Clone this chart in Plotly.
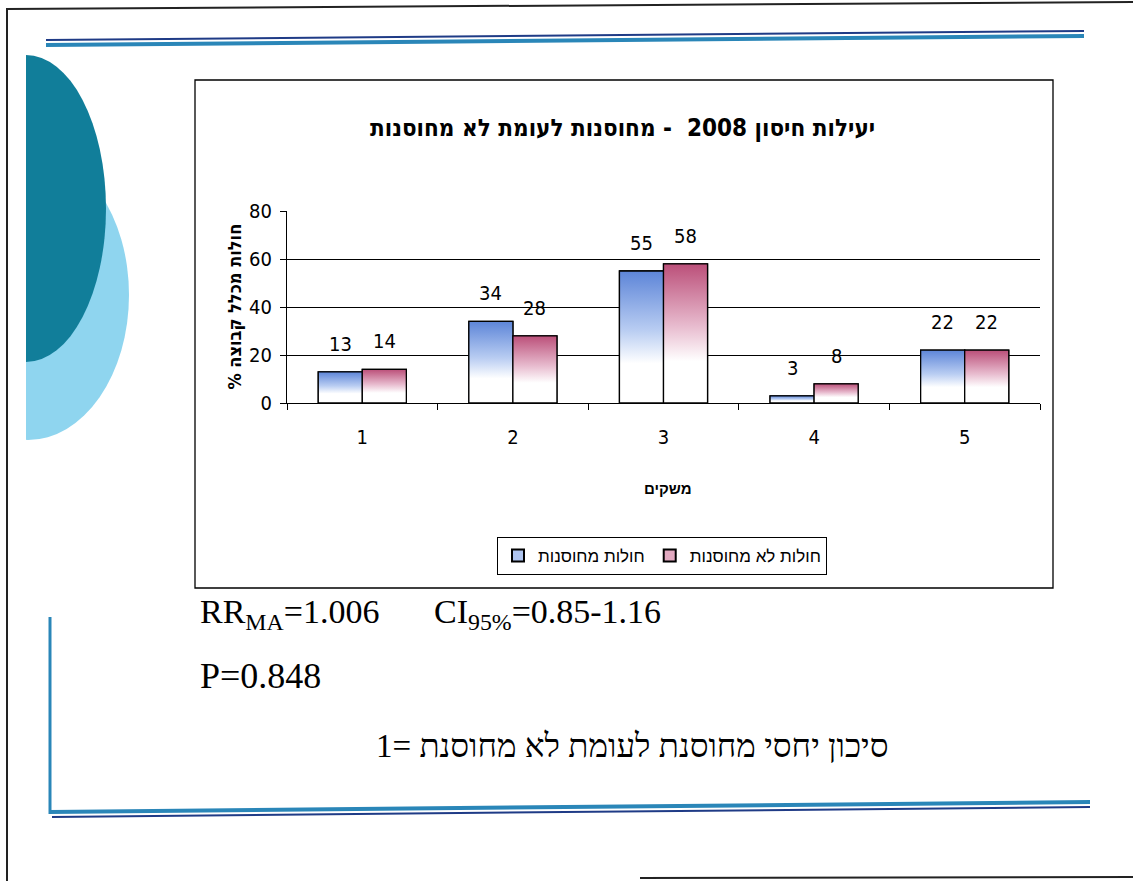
import numpy as np
import plotly.graph_objects as go

# ---- data -------------------------------------------------------------
categories = ["1", "2", "3", "4", "5"]
vaccinated = [13, 34, 55, 3, 22]        # חולות מחוסנות
unvaccinated = [14, 28, 58, 8, 22]      # חולות לא מחוסנות
series_names = ["חולות מחוסנות", "חולות לא מחוסנות"]
y_ticks = [0, 20, 40, 60, 80]

title_text = "יעילות חיסון 2008  - מחוסנות לעומת לא מחוסנות"
y_title = "% חולות מכלל קבוצה"
x_title = "משקים"
rr_text = "RR<sub>MA</sub>=1.006"
ci_text = "CI<sub>95%</sub>=0.85-1.16"
p_text = "P=0.848"
rr_note = "1= סיכון יחסי מחוסנת לעומת לא מחוסנת"

# ---- page geometry helpers (pixel -> paper) ---------------------------
W, H = 1133, 881


def px(x):
    return x / W


def py(y):
    return 1 - y / H


NARROW = "Liberation Sans Narrow, DejaVu Sans Condensed, Arial Narrow, sans-serif"
SANS = "Liberation Sans, Arial, DejaVu Sans, sans-serif"
SERIF = "Liberation Serif, Times New Roman, DejaVu Serif, serif"

BAR_GAP = 0.415
bar_w = (1 - BAR_GAP) / 2
x_pos = np.arange(1, len(categories) + 1)

blue_scale = [[0, "#ffffff"], [0.3, "#ffffff"], [0.55, "#b9cdf2"], [1, "#5d85d8"]]
pink_scale = [[0, "#ffffff"], [0.3, "#ffffff"], [0.55, "#e8bccf"], [1, "#bb4f79"]]

fig = go.Figure()

series = [
    (series_names[0], vaccinated, blue_scale, "#aec4ef", -1),
    (series_names[1], unvaccinated, pink_scale, "#e2a9c0", 1),
]

# grouped bars carry the values and the legend entries
for name, vals, _, legend_color, _ in series:
    fig.add_trace(go.Bar(
        x=x_pos, y=vals, name=name,
        marker=dict(color=legend_color, line=dict(color="black", width=1.3)),
        hoverinfo="skip",
    ))

# vertical gradient fill drawn over each bar
for name, vals, scale, _, side in series:
    for xc, v in zip(x_pos, vals):
        xc_off = xc + side * bar_w / 2
        x0, x1 = xc_off - bar_w / 2, xc_off + bar_w / 2
        fig.add_trace(go.Scatter(
            x=[x0, x0, x1, x1, x0], y=[0, v, v, 0, 0],
            mode="lines", fill="toself",
            fillgradient=dict(type="vertical", colorscale=scale),
            line=dict(color="black", width=1.3),
            showlegend=False, hoverinfo="skip",
        ))

# value labels above each bar
annotations = []
for name, vals, _, _, side in series:
    for xc, v in zip(x_pos, vals):
        annotations.append(dict(
            text=str(v), x=xc + side * bar_w / 2, y=v, xref="x", yref="y",
            yanchor="bottom", yshift=14, showarrow=False,
            font=dict(family=NARROW, size=20, color="black"),
        ))

# ---- slide decoration -------------------------------------------------
shapes = []

# left half discs
shapes.append(dict(type="circle", xref="paper", yref="paper", layer="below",
                   x0=px(28 - 101), x1=px(28 + 101), y0=py(440), y1=py(150),
                   fillcolor="#8fd5ef", line=dict(width=0)))
shapes.append(dict(type="circle", xref="paper", yref="paper", layer="below",
                   x0=px(26 - 80), x1=px(26 + 80), y0=py(362), y1=py(55),
                   fillcolor="#117e9a", line=dict(width=0)))
shapes.append(dict(type="rect", xref="paper", yref="paper", layer="below",
                   x0=0, x1=px(26), y0=py(470), y1=py(40),
                   fillcolor="white", line=dict(width=0)))

# page border
shapes.append(dict(type="line", xref="paper", yref="paper", layer="below",
                   x0=px(7), x1=px(7), y0=0, y1=py(8),
                   line=dict(color="#222222", width=2)))
shapes.append(dict(type="line", xref="paper", yref="paper", layer="below",
                   x0=px(7), x1=1, y0=py(9), y1=py(2),
                   line=dict(color="#222222", width=2)))
shapes.append(dict(type="line", xref="paper", yref="paper", layer="below",
                   x0=px(640), x1=1, y0=py(878), y1=py(877),
                   line=dict(color="#222222", width=2)))

# top rule
shapes.append(dict(type="line", xref="paper", yref="paper", layer="below",
                   x0=px(46), x1=px(1084), y0=py(40), y1=py(31),
                   line=dict(color="#1f3b86", width=2)))
shapes.append(dict(type="line", xref="paper", yref="paper", layer="below",
                   x0=px(46), x1=px(1084), y0=py(45), y1=py(36),
                   line=dict(color="#2a86b8", width=4)))

# bottom-left bracket
shapes.append(dict(type="line", xref="paper", yref="paper", layer="below",
                   x0=px(50), x1=px(50), y0=py(617), y1=py(814),
                   line=dict(color="#2a86b8", width=3)))
shapes.append(dict(type="line", xref="paper", yref="paper", layer="below",
                   x0=px(50), x1=px(1090), y0=py(812), y1=py(802),
                   line=dict(color="#2a86b8", width=4)))
shapes.append(dict(type="line", xref="paper", yref="paper", layer="below",
                   x0=px(52), x1=px(1090), y0=py(817), y1=py(807),
                   line=dict(color="#1f3b86", width=2)))

# chart frame
shapes.append(dict(type="rect", xref="paper", yref="paper", layer="below",
                   x0=px(195), x1=px(1053), y0=py(588), y1=py(80),
                   fillcolor="white", line=dict(color="black", width=1.3)))

# ---- text -------------------------------------------------------------
annotations += [
    dict(text="<b>" + title_text + "</b>", x=px(622), y=py(112),
         xref="paper", yref="paper", showarrow=False,
         font=dict(family=NARROW, size=24, color="black")),
    dict(text="<b>" + y_title + "</b>", x=px(221), y=py(306),
         xref="paper", yref="paper", showarrow=False, textangle=-90,
         font=dict(family=NARROW, size=18, color="black")),
    dict(text="<b>" + x_title + "</b>", x=px(668), y=py(488),
         xref="paper", yref="paper", showarrow=False,
         font=dict(family=SANS, size=15, color="black")),
    dict(text=rr_text, x=px(198), y=py(637), xanchor="left",
         xref="paper", yref="paper", showarrow=False,
         font=dict(family=SERIF, size=34, color="black")),
    dict(text=ci_text, x=px(432), y=py(637), xanchor="left",
         xref="paper", yref="paper", showarrow=False,
         font=dict(family=SERIF, size=34, color="black")),
    dict(text=p_text, x=px(198), y=py(698), xanchor="left",
         xref="paper", yref="paper", showarrow=False,
         font=dict(family=SERIF, size=36, color="black")),
    dict(text=rr_note, x=px(890), y=py(766), xanchor="right",
         xref="paper", yref="paper", showarrow=False,
         font=dict(family=SERIF, size=33, color="black")),
]

fig.update_layout(
    width=W, height=H,
    margin=dict(l=0, r=0, t=0, b=0, pad=0, autoexpand=False),
    paper_bgcolor="white",
    plot_bgcolor="#dedee9",
    barmode="group", bargap=BAR_GAP, bargroupgap=0,
    shapes=shapes, annotations=annotations,
    showlegend=True,
    legend=dict(
        orientation="h", x=px(662), y=py(556),
        xanchor="center", yanchor="middle",
        bgcolor="white", bordercolor="black", borderwidth=1,
        font=dict(family=SANS, size=17, color="black"),
        itemsizing="constant",
    ),
    xaxis=dict(
        domain=[px(287), px(1040)], range=[0.5, 5.5],
        tickvals=list(x_pos), ticktext=categories,
        ticks="", showgrid=False, zeroline=False,
        showline=True, linecolor="black", linewidth=1.3,
        tickfont=dict(family=NARROW, size=20, color="black"),
        ticklabelstandoff=16,
        minor=dict(tickvals=[i + 0.5 for i in range(len(categories) + 1)],
                   ticks="outside", ticklen=6, tickcolor="black", tickwidth=1),
    ),
    yaxis=dict(
        domain=[py(403), py(211)], range=[0, 80],
        tickvals=y_ticks, ticks="outside", ticklen=6, tickcolor="black",
        showgrid=True, gridcolor="black", gridwidth=1.2,
        zeroline=False, showline=True, linecolor="black", linewidth=1.3,
        tickfont=dict(family=NARROW, size=20, color="black"),
        ticklabelstandoff=4,
    ),
)

fig.write_html("out.html")
